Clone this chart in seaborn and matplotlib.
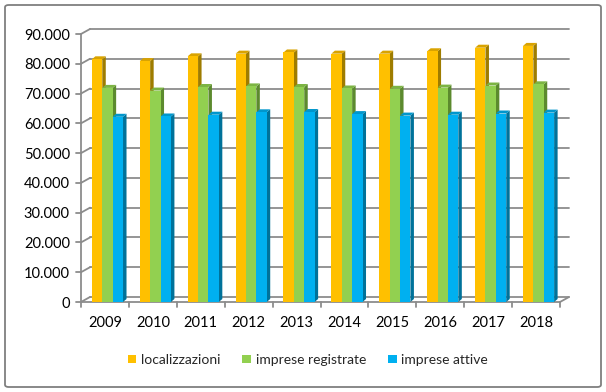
import numpy as np
import pandas as pd
import matplotlib
matplotlib.use("Agg")
import matplotlib.pyplot as plt
import seaborn as sns
from matplotlib.patches import Polygon, FancyBboxPatch, Patch
from matplotlib.lines import Line2D
from matplotlib.transforms import IdentityTransform

# ---------------- data ----------------
years = ["2009", "2010", "2011", "2012", "2013", "2014", "2015", "2016", "2017", "2018"]
localizzazioni = [81500, 80900, 82500, 83400, 83800, 83400, 83400, 84200, 85400, 86000]
imprese_registrate = [71900, 71000, 72200, 72400, 72200, 71700, 71600, 72000, 72700, 73100]
imprese_attive = [62200, 62300, 62900, 63700, 63800, 63100, 62600, 62900, 63300, 63600]
series_names = ["localizzazioni", "imprese registrate", "imprese attive"]
y_ticks = [0, 10000, 20000, 30000, 40000, 50000, 60000, 70000, 80000, 90000]

front_colors = ["#FFC000", "#92D050", "#00B0F0"]
side_colors = ["#9E7C00", "#5C8A2E", "#00729A"]
top_colors = ["#D9A300", "#7CB443", "#0096CC"]

df = pd.DataFrame({
    "anno": years * 3,
    "valore": localizzazioni + imprese_registrate + imprese_attive,
    "serie": sum([[s] * len(years) for s in series_names], []),
})

# ---------------- figure ----------------
sns.set_theme(style="white")
plt.rcParams["font.family"] = ["Lato", "DejaVu Sans"]

DPI = 100
W, H = 606, 392
fig = plt.figure(figsize=(W / DPI, H / DPI), dpi=DPI)
fig.patch.set_facecolor("white")

# outer chart frame
frame = FancyBboxPatch((5 / W, 5 / H), 596 / W, 382 / H,
                       boxstyle="round,pad=0,rounding_size=0.006",
                       transform=fig.transFigure, facecolor="none",
                       edgecolor="#7F7F7F", linewidth=1.3, zorder=0)
fig.patches.append(frame)

ax = fig.add_axes([81 / W, 90 / H, 479 / W, 268 / H])
ax.set_facecolor("none")

sns.barplot(data=df, x="anno", y="valore", hue="serie", hue_order=series_names,
            palette=front_colors, width=0.65, saturation=1, ax=ax, legend=False,
            linewidth=0, edgecolor="none", errorbar=None)

ax.set_ylim(0, 90000)
ax.set_xlim(-0.5, len(years) - 0.5)
for s in ax.spines.values():
    s.set_visible(False)
ax.set_xlabel("")
ax.set_ylabel("")
ax.set_yticks(y_ticks)
ax.set_yticklabels([f"{v:,}".replace(",", ".") for v in y_ticks])
ax.tick_params(axis="y", length=0, pad=8, labelsize=10.5, colors="black")
ax.tick_params(axis="x", length=0, pad=10, labelsize=10.5, colors="black")
ax.grid(False)

fig.canvas.draw()

ident = IdentityTransform()
# 3D wall offset (pixels) and bar depth
WX, WY = 9, 5
BX, BY = 3.5, 3
SHIFT = 2.5
grid_col = "#8C8C8C"

# back wall gridlines + left wall diagonals
xl, _ = ax.transData.transform((-0.5, 0))
xr, _ = ax.transData.transform((len(years) - 0.5, 0))
for v in y_ticks:
    _, yy = ax.transData.transform((0, v))
    fig.add_artist(Line2D([xl + WX, xr + WX], [yy + WY, yy + WY], transform=ident,
                          color=grid_col, lw=1.3, zorder=1))
    fig.add_artist(Line2D([xl, xl + WX], [yy, yy + WY], transform=ident,
                          color=grid_col, lw=1.3, zorder=1))
    fig.add_artist(Line2D([xl - 5, xl], [yy, yy], transform=ident,
                          color=grid_col, lw=1.3, zorder=1))

_, y0 = ax.transData.transform((0, 0))
_, ytop = ax.transData.transform((0, 90000))
fig.add_artist(Line2D([xl, xl], [y0, ytop], transform=ident, color=grid_col, lw=1.3, zorder=1))
fig.add_artist(Line2D([xl, xr], [y0, y0], transform=ident, color=grid_col, lw=1.3, zorder=1))
fig.add_artist(Line2D([xr, xr + WX], [y0, y0 + WY], transform=ident, color=grid_col, lw=1.3, zorder=1))
for k in range(len(years) + 1):
    xx, _ = ax.transData.transform((k - 0.5, 0))
    fig.add_artist(Line2D([xx, xx], [y0, y0 - 5], transform=ident, color=grid_col, lw=1.3, zorder=1))

# pseudo-3D bars
patches = list(ax.patches)
n = len(years)
for i, p in enumerate(patches):
    si = i // n
    gi = i % n
    x0, yb = ax.transData.transform((p.get_x(), p.get_y()))
    x1, yt = ax.transData.transform((p.get_x() + p.get_width(), p.get_y() + p.get_height()))
    x0 += SHIFT
    x1 += SHIFT
    z = 3 + gi * 0.1 + si * 0.01
    side = Polygon([(x1, yb), (x1 + BX, yb + BY), (x1 + BX, yt + BY), (x1, yt)],
                   closed=True, transform=ident, facecolor=side_colors[si],
                   edgecolor="none", zorder=z)
    top = Polygon([(x0, yt), (x0 + BX, yt + BY), (x1 + BX, yt + BY), (x1, yt)],
                  closed=True, transform=ident, facecolor=top_colors[si],
                  edgecolor="none", zorder=z + 0.001)
    front = Polygon([(x0, yb), (x0, yt), (x1, yt), (x1, yb)], closed=True,
                    transform=ident, facecolor=front_colors[si], edgecolor="none",
                    zorder=z + 0.002)
    fig.add_artist(side)
    fig.add_artist(top)
    fig.add_artist(front)
    p.set_visible(False)

# legend
handles = [Patch(facecolor=c, edgecolor="none") for c in front_colors]
fig.legend(handles, series_names, loc="center", bbox_to_anchor=(0.508, 0.082),
           ncol=3, frameon=False, fontsize=10, handlelength=0.6, handleheight=0.6,
           handletextpad=0.35, columnspacing=1.6)

fig.savefig("out.png", dpi=DPI)
